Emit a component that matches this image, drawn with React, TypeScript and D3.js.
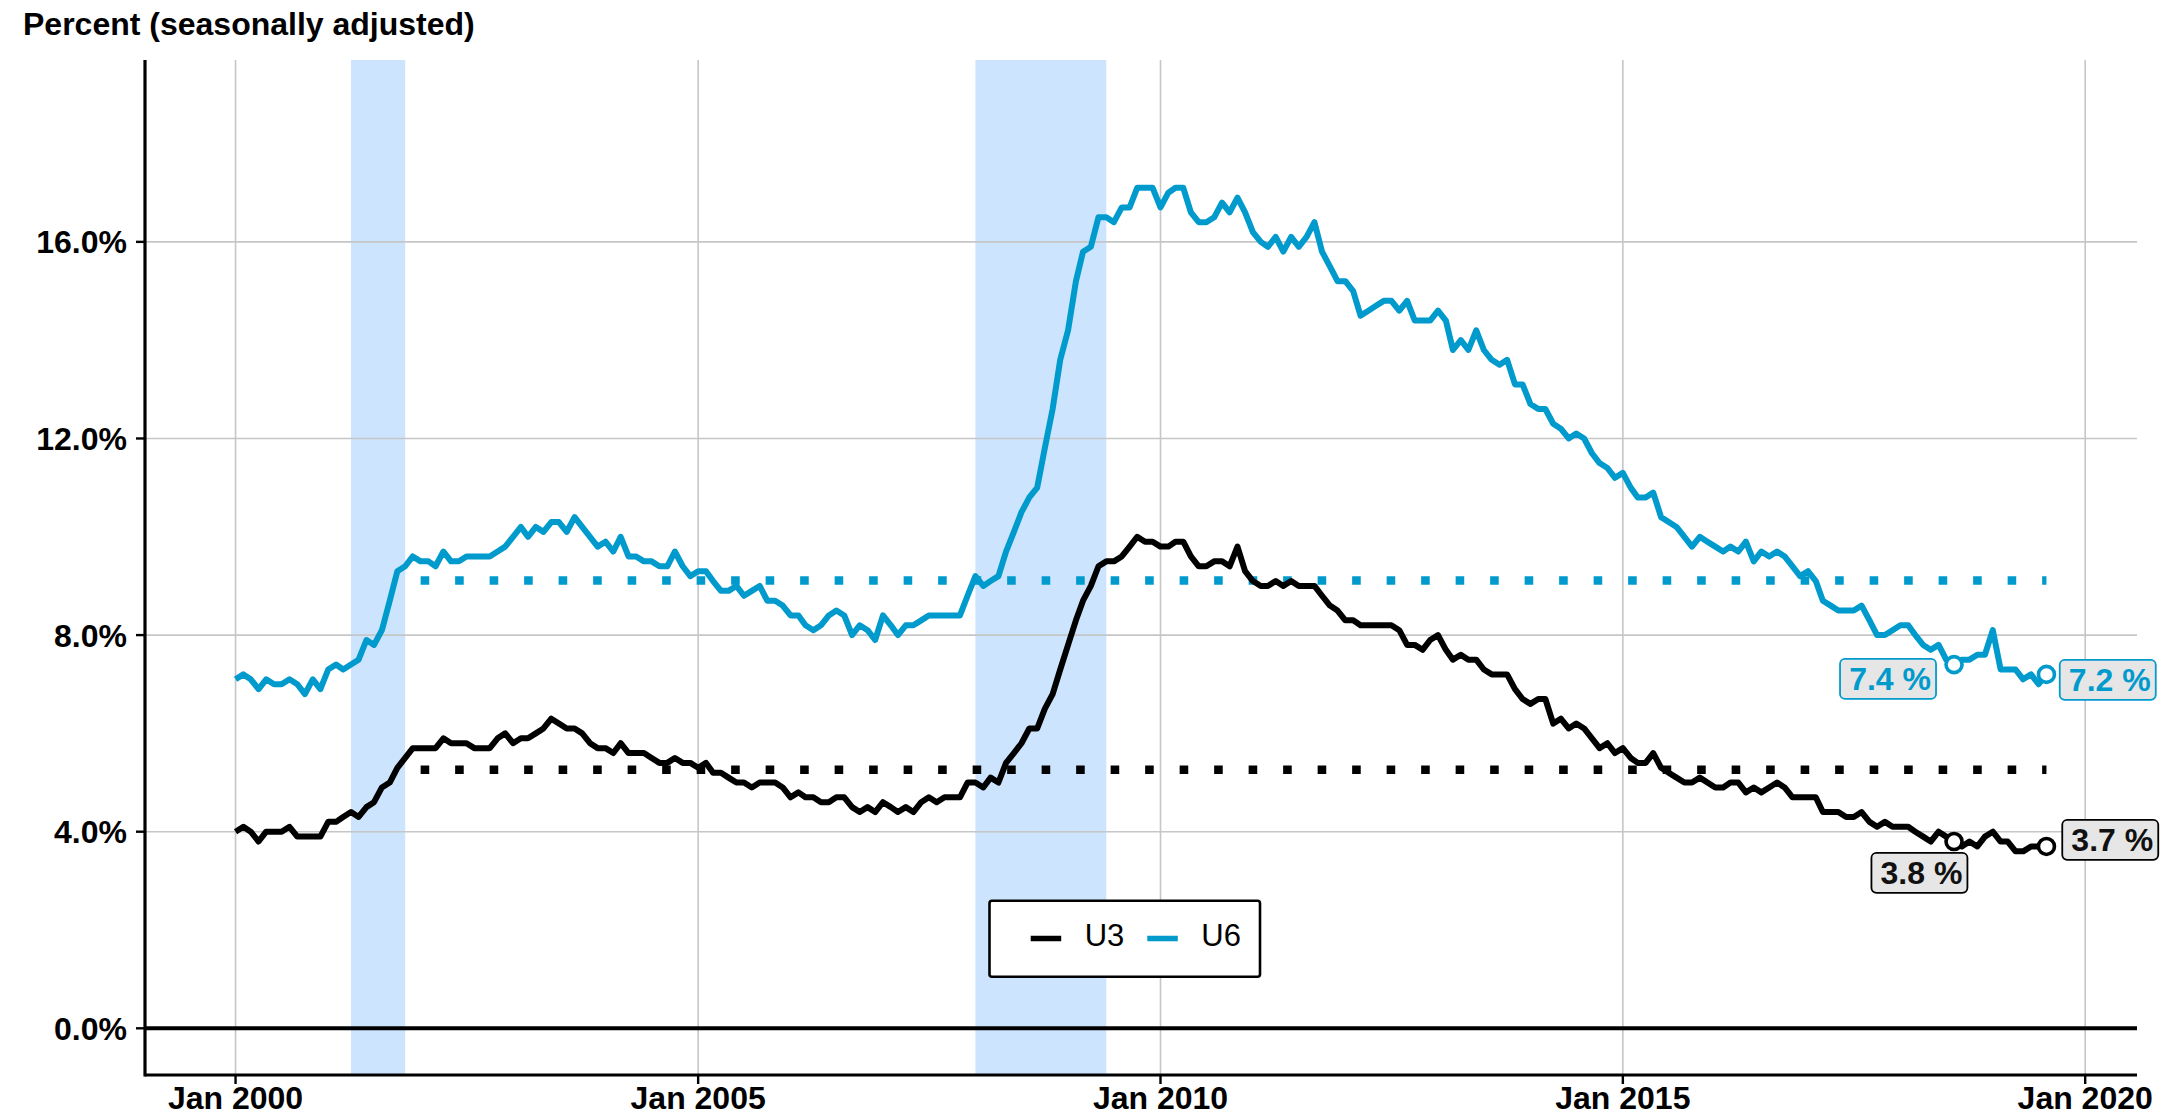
import React, { useEffect, useRef } from 'react';
import * as d3 from 'd3';

// monthly unemployment rates, Jan 2000 .. Aug 2019 (percent, SA)
const startMonth = '2000-01';
const u3Values = [
  4.0, 4.1, 4.0, 3.8, 4.0, 4.0, 4.0, 4.1, 3.9, 3.9, 3.9, 3.9,
  4.2, 4.2, 4.3, 4.4, 4.3, 4.5, 4.6, 4.9, 5.0, 5.3, 5.5, 5.7,
  5.7, 5.7, 5.7, 5.9, 5.8, 5.8, 5.8, 5.7, 5.7, 5.7, 5.9, 6.0,
  5.8, 5.9, 5.9, 6.0, 6.1, 6.3, 6.2, 6.1, 6.1, 6.0, 5.8, 5.7,
  5.7, 5.6, 5.8, 5.6, 5.6, 5.6, 5.5, 5.4, 5.4, 5.5, 5.4, 5.4,
  5.3, 5.4, 5.2, 5.2, 5.1, 5.0, 5.0, 4.9, 5.0, 5.0, 5.0, 4.9,
  4.7, 4.8, 4.7, 4.7, 4.6, 4.6, 4.7, 4.7, 4.5, 4.4, 4.5, 4.4,
  4.6, 4.5, 4.4, 4.5, 4.4, 4.6, 4.7, 4.6, 4.7, 4.7, 4.7, 5.0,
  5.0, 4.9, 5.1, 5.0, 5.4, 5.6, 5.8, 6.1, 6.1, 6.5, 6.8, 7.3,
  7.8, 8.3, 8.7, 9.0, 9.4, 9.5, 9.5, 9.6, 9.8, 10.0, 9.9, 9.9,
  9.8, 9.8, 9.9, 9.9, 9.6, 9.4, 9.4, 9.5, 9.5, 9.4, 9.8, 9.3,
  9.1, 9.0, 9.0, 9.1, 9.0, 9.1, 9.0, 9.0, 9.0, 8.8, 8.6, 8.5,
  8.3, 8.3, 8.2, 8.2, 8.2, 8.2, 8.2, 8.1, 7.8, 7.8, 7.7, 7.9,
  8.0, 7.7, 7.5, 7.6, 7.5, 7.5, 7.3, 7.2, 7.2, 7.2, 6.9, 6.7,
  6.6, 6.7, 6.7, 6.2, 6.3, 6.1, 6.2, 6.1, 5.9, 5.7, 5.8, 5.6,
  5.7, 5.5, 5.4, 5.4, 5.6, 5.3, 5.2, 5.1, 5.0, 5.0, 5.1, 5.0,
  4.9, 4.9, 5.0, 5.0, 4.8, 4.9, 4.8, 4.9, 5.0, 4.9, 4.7, 4.7,
  4.7, 4.7, 4.4, 4.4, 4.4, 4.3, 4.3, 4.4, 4.2, 4.1, 4.2, 4.1,
  4.1, 4.1, 4.0, 3.9, 3.8, 4.0, 3.9, 3.8, 3.7, 3.8, 3.7, 3.9,
  4.0, 3.8, 3.8, 3.6, 3.6, 3.7, 3.7, 3.7,
];
const u6Values = [
  7.1, 7.2, 7.1, 6.9, 7.1, 7.0, 7.0, 7.1, 7.0, 6.8, 7.1, 6.9,
  7.3, 7.4, 7.3, 7.4, 7.5, 7.9, 7.8, 8.1, 8.7, 9.3, 9.4, 9.6,
  9.5, 9.5, 9.4, 9.7, 9.5, 9.5, 9.6, 9.6, 9.6, 9.6, 9.7, 9.8,
  10.0, 10.2, 10.0, 10.2, 10.1, 10.3, 10.3, 10.1, 10.4, 10.2, 10.0, 9.8,
  9.9, 9.7, 10.0, 9.6, 9.6, 9.5, 9.5, 9.4, 9.4, 9.7, 9.4, 9.2,
  9.3, 9.3, 9.1, 8.9, 8.9, 9.0, 8.8, 8.9, 9.0, 8.7, 8.7, 8.6,
  8.4, 8.4, 8.2, 8.1, 8.2, 8.4, 8.5, 8.4, 8.0, 8.2, 8.1, 7.9,
  8.4, 8.2, 8.0, 8.2, 8.2, 8.3, 8.4, 8.4, 8.4, 8.4, 8.4, 8.8,
  9.2, 9.0, 9.1, 9.2, 9.7, 10.1, 10.5, 10.8, 11.0, 11.8, 12.6, 13.6,
  14.2, 15.2, 15.8, 15.9, 16.5, 16.5, 16.4, 16.7, 16.7, 17.1, 17.1, 17.1,
  16.7, 17.0, 17.1, 17.1, 16.6, 16.4, 16.4, 16.5, 16.8, 16.6, 16.9, 16.6,
  16.2, 16.0, 15.9, 16.1, 15.8, 16.1, 15.9, 16.1, 16.4, 15.8, 15.5, 15.2,
  15.2, 15.0, 14.5, 14.6, 14.7, 14.8, 14.8, 14.6, 14.8, 14.4, 14.4, 14.4,
  14.6, 14.4, 13.8, 14.0, 13.8, 14.2, 13.8, 13.6, 13.5, 13.6, 13.1, 13.1,
  12.7, 12.6, 12.6, 12.3, 12.2, 12.0, 12.1, 12.0, 11.7, 11.5, 11.4, 11.2,
  11.3, 11.0, 10.8, 10.8, 10.9, 10.4, 10.3, 10.2, 10.0, 9.8, 10.0, 9.9,
  9.8, 9.7, 9.8, 9.7, 9.9, 9.5, 9.7, 9.6, 9.7, 9.6, 9.4, 9.2,
  9.3, 9.1, 8.7, 8.6, 8.5, 8.5, 8.5, 8.6, 8.3, 8.0, 8.0, 8.1,
  8.2, 8.2, 8.0, 7.8, 7.7, 7.8, 7.5, 7.4, 7.5, 7.5, 7.6, 7.6,
  8.1, 7.3, 7.3, 7.3, 7.1, 7.2, 7.0, 7.2,
];

const seriesNames = ['U3', 'U6'];
const seriesColors = ['#000000', '#009ACD'];
const averageLevels = [5.26, 9.11];
const averageStart = '2002-01';
const recessions = [
  { start: '2001-04', end: '2001-11' },
  { start: '2008-01', end: '2009-06' },
];
const highlightMonths = ['2018-08', '2019-08'];
const yTicks = [0, 4, 8, 12, 16];
const xTickYears = [2000, 2005, 2010, 2015, 2020];

const FONT = '"Liberation Sans", Arial, Helvetica, sans-serif';

const parseMonth = d3.timeParse('%Y-%m');

const App = () => {
  const svgRef = useRef(null);

  useEffect(() => {
    const W = 2179, H = 1117;
    const left = 145, right = 2137, top = 60, bottom = 1075;

    const start = parseMonth(startMonth);
    const series = [u3Values, u6Values].map((vals, s) => ({
      name: seriesNames[s],
      color: seriesColors[s],
      avg: averageLevels[s],
      data: vals.map((v, i) => ({ date: d3.timeMonth.offset(start, i), value: v })),
    }));

    const first = series[0].data[0].date;
    const last = series[0].data[series[0].data.length - 1].date;
    const pad = (last - first) * 0.05;
    const x = d3.scaleTime()
      .domain([new Date(+first - pad), new Date(+last + pad)])
      .range([left, right]);
    const y = d3.scaleLinear().domain([-0.95, 19.7]).range([bottom, top]);

    const svg = d3.select(svgRef.current)
      .attr('width', W).attr('height', H)
      .html('');

    svg.append('rect').attr('width', W).attr('height', H).attr('fill', '#fff');

    // recession shading
    svg.append('g').selectAll('rect')
      .data(recessions)
      .enter().append('rect')
      .attr('x', d => x(parseMonth(d.start)))
      .attr('width', d => x(parseMonth(d.end)) - x(parseMonth(d.start)))
      .attr('y', top).attr('height', bottom - top)
      .attr('fill', '#cce4fd');

    // grid
    const grid = svg.append('g').attr('stroke', '#c6c6c6').attr('stroke-width', 1.6);
    grid.selectAll('.gy').data(yTicks).enter().append('line')
      .attr('x1', left).attr('x2', right)
      .attr('y1', d => y(d)).attr('y2', d => y(d));
    grid.selectAll('.gx').data(xTickYears).enter().append('line')
      .attr('x1', d => x(new Date(d, 0, 1))).attr('x2', d => x(new Date(d, 0, 1)))
      .attr('y1', top).attr('y2', bottom);

    // zero line
    svg.append('line')
      .attr('x1', left).attr('x2', right)
      .attr('y1', y(0)).attr('y2', y(0))
      .attr('stroke', '#000').attr('stroke-width', 4);

    // average reference lines
    const avgStart = parseMonth(averageStart);
    series.forEach(s => {
      svg.append('line')
        .attr('x1', x(avgStart)).attr('x2', x(last))
        .attr('y1', y(s.avg)).attr('y2', y(s.avg))
        .attr('stroke', s.color)
        .attr('stroke-width', 8.6)
        .attr('stroke-dasharray', '8.6 25.9');
    });

    const line = d3.line()
      .x(d => x(d.date))
      .y(d => y(d.value));

    series.forEach(s => {
      svg.append('path')
        .datum(s.data)
        .attr('d', line)
        .attr('fill', 'none')
        .attr('stroke', s.color)
        .attr('stroke-width', 6)
        .attr('stroke-linejoin', 'round');
    });

    // highlighted points with labels
    const labelOffsets = [
      [[-34.6, 31.3], [63.8, -6.6]],
      [[-66, 14.3], [61.3, 5.4]],
    ];
    series.forEach((s, si) => {
      highlightMonths.forEach((m, mi) => {
        const dt = parseMonth(m);
        const pt = s.data.find(d => +d.date === +dt);
        if (!pt) return;
        const cx = x(pt.date), cy = y(pt.value);
        svg.append('circle')
          .attr('cx', cx).attr('cy', cy).attr('r', 8)
          .attr('fill', '#fff')
          .attr('stroke', s.color).attr('stroke-width', 3.6);

        const [dx, dy] = labelOffsets[si][mi];
        const bw = 96, bh = 40;
        const g = svg.append('g').attr('transform', `translate(${cx + dx},${cy + dy})`);
        g.append('rect')
          .attr('x', -bw / 2).attr('y', -bh / 2)
          .attr('width', bw).attr('height', bh)
          .attr('rx', 5)
          .attr('fill', '#e6e6e6')
          .attr('stroke', s.color).attr('stroke-width', 1.8);
        g.append('text')
          .attr('x', 2).attr('y', 11.5)
          .attr('text-anchor', 'middle')
          .style('font-family', FONT)
          .style('font-size', '32px')
          .style('font-weight', 'bold')
          .attr('fill', si === 0 ? '#111' : s.color)
          .text(`${pt.value.toFixed(1)} %`);
      });
    });

    // axes
    const axisG = svg.append('g').attr('stroke', '#000');
    axisG.append('line')
      .attr('x1', left).attr('x2', left).attr('y1', top).attr('y2', bottom + 1.5)
      .attr('stroke-width', 3.2);
    axisG.append('line')
      .attr('x1', left).attr('x2', right).attr('y1', bottom).attr('y2', bottom)
      .attr('stroke-width', 3.2);
    axisG.selectAll('.ty').data(yTicks).enter().append('line')
      .attr('x1', left - 9).attr('x2', left)
      .attr('y1', d => y(d)).attr('y2', d => y(d))
      .attr('stroke-width', 2.4);
    axisG.selectAll('.tx').data(xTickYears).enter().append('line')
      .attr('x1', d => x(new Date(d, 0, 1))).attr('x2', d => x(new Date(d, 0, 1)))
      .attr('y1', bottom).attr('y2', bottom + 9)
      .attr('stroke-width', 2.4);

    svg.append('g').selectAll('text').data(yTicks).enter().append('text')
      .attr('x', left - 18)
      .attr('y', d => y(d))
      .attr('dy', '0.36em')
      .attr('text-anchor', 'end')
      .style('font-family', FONT)
      .style('font-size', '32px')
      .style('font-weight', 'bold')
      .attr('fill', '#000')
      .text(d => d3.format('.1f')(d) + '%');

    svg.append('g').selectAll('text').data(xTickYears).enter().append('text')
      .attr('x', d => x(new Date(d, 0, 1)))
      .attr('y', 1109)
      .attr('text-anchor', 'middle')
      .style('font-family', FONT)
      .style('font-size', '32px')
      .style('font-weight', 'bold')
      .attr('fill', '#000')
      .text(d => d3.timeFormat('%b %Y')(new Date(d, 0, 1)));

    svg.append('text')
      .attr('x', 23).attr('y', 35)
      .style('font-family', FONT)
      .style('font-size', '32px')
      .style('font-weight', 'bold')
      .attr('fill', '#000')
      .text('Percent (seasonally adjusted)');

    // legend
    const lg = svg.append('g');
    lg.append('rect')
      .attr('x', 989.5).attr('y', 900.7)
      .attr('width', 270.5).attr('height', 76)
      .attr('rx', 2.5)
      .attr('fill', '#fff').attr('stroke', '#000').attr('stroke-width', 2.6);
    const legendX = [1030.7, 1147.3];
    series.forEach((s, i) => {
      lg.append('line')
        .attr('x1', legendX[i]).attr('x2', legendX[i] + 30.5)
        .attr('y1', 938.5).attr('y2', 938.5)
        .attr('stroke', s.color).attr('stroke-width', 5.5);
      lg.append('text')
        .attr('x', legendX[i] + 54)
        .attr('y', 946)
        .style('font-family', FONT)
        .style('font-size', '31px')
        .attr('fill', '#000')
        .text(s.name);
    });
  }, []);

  return (
    <>
      <style>{'body{margin:0;overflow:hidden;}'}</style>
      <svg ref={svgRef} style={{ display: 'block' }} />
    </>
  );
};

export default App;
